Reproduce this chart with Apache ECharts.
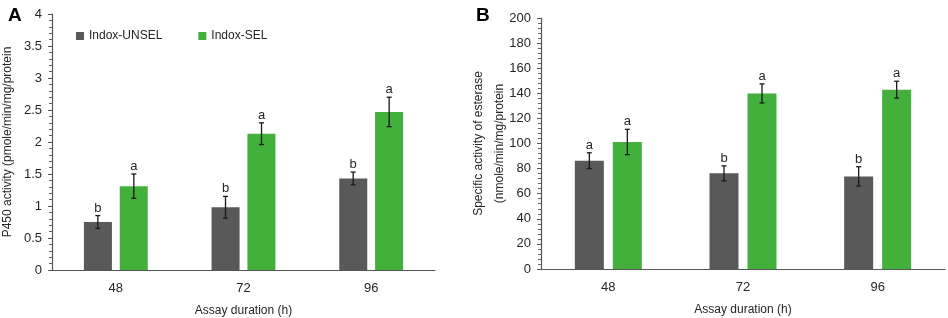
<!DOCTYPE html>
<html>
<head>
<meta charset="utf-8">
<script src="https://cdn.jsdelivr.net/npm/echarts@6/dist/echarts.min.js"></script>
<style>
	html, body { margin: 0; padding: 0; background: #fff; }
	#chart { width: 948px; height: 318px; }
</style>
</head>
<body>
<div id="chart"></div>
<script>
var hours = ['48', '72', '96'];
var seriesNames = ['Indox-UNSEL', 'Indox-SEL'];

// panel A - P450
var p450Unsel = [0.75, 0.98, 1.43];
var p450UnselErr = [0.1, 0.17, 0.1];
var p450UnselLetter = ['b', 'b', 'b'];
var p450Sel = [1.31, 2.13, 2.47];
var p450SelErr = [0.19, 0.17, 0.23];
var p450SelLetter = ['a', 'a', 'a'];

// panel B - esterase
var estUnsel = [86.3, 76.2, 73.8];
var estUnselErr = [6.3, 6.0, 7.7];
var estUnselLetter = ['a', 'b', 'b'];
var estSel = [101.2, 139.9, 142.9];
var estSelErr = [10.1, 7.6, 6.7];
var estSelLetter = ['a', 'a', 'a'];

var p450Ticks = { min: 0, max: 4, interval: 0.5 };
var estTicks = { min: 0, max: 200, interval: 20 };

var FONT = "'Liberation Sans', Arial, sans-serif";
var GRAY = '#595959';
var GREEN = '#43b03c';

var Chart = {
	init: function() {
		this.el = echarts.init(document.getElementById('chart'), null, { renderer: 'canvas' });
		this.el.setOption(this.option(), true);
	},
	errData: function(vals, errs) {
		var out = [];
		for (var i = 0; i < vals.length; i++) {
			out.push([i, vals[i] - errs[i], vals[i] + errs[i]]);
		}
		return out;
	},
	//误差线 + 字母
	errSeries: function(vals, errs, letters, offset, axis) {
		return {
			type: 'custom',
			xAxisIndex: axis,
			yAxisIndex: axis,
			z: 5,
			silent: true,
			data: this.errData(vals, errs),
			renderItem: function(params, api) {
				var x = api.coord([api.value(0), 0])[0] + offset;
				var lo = api.coord([api.value(0), api.value(1)])[1];
				var hi = api.coord([api.value(0), api.value(2)])[1];
				var st = { stroke: '#1a1a1a', lineWidth: 1.3 };
				return {
					type: 'group',
					children: [
						{ type: 'line', shape: { x1: x, y1: lo, x2: x, y2: hi }, style: st },
						{ type: 'line', shape: { x1: x - 2.5, y1: hi, x2: x + 2.5, y2: hi }, style: st },
						{ type: 'line', shape: { x1: x - 2.5, y1: lo, x2: x + 2.5, y2: lo }, style: st },
						{
							type: 'text',
							style: {
								x: x, y: hi - 1,
								text: letters[params.dataIndex],
								textAlign: 'center', textVerticalAlign: 'bottom',
								font: '13px ' + FONT, fill: '#262626'
							}
						}
					]
				};
			}
		};
	},
	xAxis: function(idx) {
		return {
			type: 'category',
			gridIndex: idx,
			data: hours,
			name: 'Assay duration (h)',
			nameLocation: 'middle',
			nameGap: 35,
			nameTextStyle: { fontFamily: FONT, fontSize: 12, color: '#262626' },
			axisLine: { lineStyle: { color: '#555', width: 1.2 } },
			axisTick: { show: false },
			axisLabel: { fontFamily: FONT, fontSize: 13, color: '#262626', margin: 12 }
		};
	},
	yAxis: function(idx, ticks, name, gap) {
		return {
			type: 'value',
			gridIndex: idx,
			min: ticks.min,
			max: ticks.max,
			interval: ticks.interval,
			name: name,
			nameLocation: 'middle',
			nameGap: gap,
			nameMoveOverlap: false,
			nameTextStyle: { fontFamily: FONT, fontSize: 12, color: '#262626', lineHeight: 21 },
			splitLine: { show: false },
			axisLine: { show: true, lineStyle: { color: '#555', width: 1.2 } },
			axisTick: { show: true, length: 4, lineStyle: { color: '#555' } },
			minorTick: { show: true, splitNumber: 5, length: 3, lineStyle: { color: '#666' } },
			axisLabel: { fontFamily: FONT, fontSize: 13, color: '#262626', margin: 10 }
		};
	},
	option: function() {
		return {
			backgroundColor: '#fff',
			animation: false,
			textStyle: { fontFamily: FONT },
			title: [
				{ text: 'A', left: 3, top: 1, textStyle: { fontFamily: FONT, fontSize: 19, fontWeight: 'bold', color: '#000' } },
				{ text: 'B', left: 471, top: 1, textStyle: { fontFamily: FONT, fontSize: 19, fontWeight: 'bold', color: '#000' } }
			],
			legend: {
				data: seriesNames,
				left: 71,
				top: 25,
				icon: 'rect',
				itemWidth: 8,
				itemHeight: 8,
				itemGap: 36,
				textStyle: { fontFamily: FONT, fontSize: 12, color: '#262626' }
			},
			grid: [
				{ left: 52, top: 14, right: 513, bottom: 48, outerBoundsMode: 'none' },
				{ left: 541, top: 18, right: 3, bottom: 49, outerBoundsMode: 'none' }
			],
			xAxis: [this.xAxis(0), this.xAxis(1)],
			yAxis: [
				this.yAxis(0, p450Ticks, 'P450 activity (pmole/min/mg/protein', 34),
				this.yAxis(1, estTicks, 'Specific activity of esterase\n(nmole/min/mg/protein', 31)
			],
			series: [
				{ name: seriesNames[0], type: 'bar', xAxisIndex: 0, yAxisIndex: 0, data: p450Unsel,
					barWidth: 28, barGap: '28%', itemStyle: { color: GRAY } },
				{ name: seriesNames[1], type: 'bar', xAxisIndex: 0, yAxisIndex: 0, data: p450Sel,
					barWidth: 28, barGap: '28%', itemStyle: { color: GREEN } },
				{ name: seriesNames[0], type: 'bar', xAxisIndex: 1, yAxisIndex: 1, data: estUnsel,
					barWidth: 29, barGap: '31%', itemStyle: { color: GRAY } },
				{ name: seriesNames[1], type: 'bar', xAxisIndex: 1, yAxisIndex: 1, data: estSel,
					barWidth: 29, barGap: '31%', itemStyle: { color: GREEN } },
				this.errSeries(p450Unsel, p450UnselErr, p450UnselLetter, -18, 0),
				this.errSeries(p450Sel, p450SelErr, p450SelLetter, 18, 0),
				this.errSeries(estUnsel, estUnselErr, estUnselLetter, -19, 1),
				this.errSeries(estSel, estSelErr, estSelLetter, 19, 1)
			]
		};
	}
};

Chart.init();
</script>
</body>
</html>
